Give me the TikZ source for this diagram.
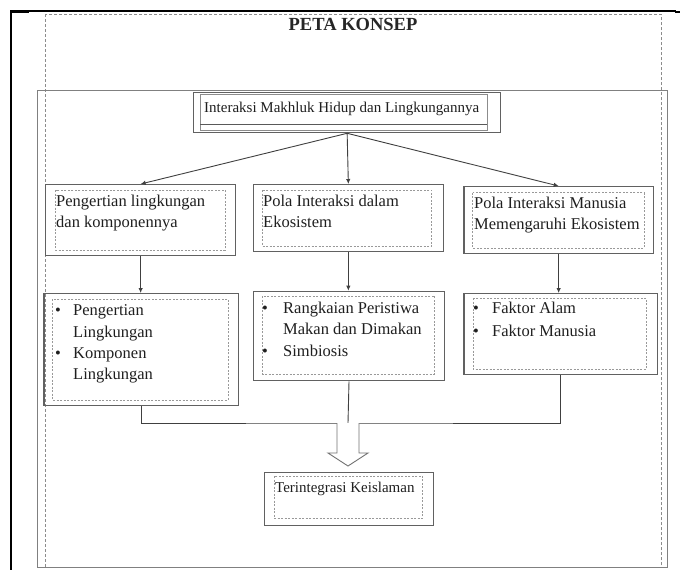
\documentclass[tikz,border=0pt]{standalone}
\usepackage{fontspec}
\setmainfont{Liberation Serif}
\usetikzlibrary{arrows.meta,calc}
\begin{document}
\begin{tikzpicture}[x=1pt,y=-1pt,
  bigsolid/.style={draw=black!50, line width=1.4pt},
  bigdash/.style={draw=black!45, line width=0.8pt, dash pattern=on 3pt off 2pt},
  outerbox/.style={draw=black!62, line width=1.3pt, inner sep=0pt, anchor=north west},
  dashbox/.style={draw=black!40, line width=0.6pt, dash pattern=on 2pt off 1.5pt},
  txt/.style={anchor=base west, inner sep=0pt, font=\fontsize{16.5}{21}\selectfont, text=black!88},
  bul/.style={anchor=base, inner sep=0pt, font=\fontsize{16.5}{21}\selectfont, text=black!88},
  conn/.style={draw=black!75, line width=0.9pt},
  arr/.style={conn, -{Latex[length=5pt,width=4.5pt]}},
]
\useasboundingbox (0,0) rectangle (680,570);
\fill[white] (0,0) rectangle (680,570);

% page frame
\draw[black, line width=1.6pt] (11,570) -- (11,11) -- (676,11);
\draw[black, line width=2.6pt] (11,12) -- (29,12);
\draw[black, line width=1.6pt] (675,12) -- (680,12);

% large frames
\draw[bigdash] (45.7,14) rectangle (661,567);
\draw[bigsolid] (37.7,90.7) rectangle (667.7,567.7);

% title
\node[anchor=base, inner sep=0pt, font=\bfseries\fontsize{18.5}{20}\selectfont, text=black!85] (title) at (353,30) {PETA KONSEP};

% top box
\node[outerbox, minimum width=307pt, minimum height=40pt] (top) at (193,92) {};
\draw[draw=black!45, line width=0.7pt] (200,94) rectangle (487,130);
\draw[draw=black!65, line width=0.8pt] (200,124) -- (487,124);
\node[txt, font=\fontsize{15}{18}\selectfont] (toptxt) at (204,112) {Interaksi Makhluk Hidup dan Lingkungannya};

% level 1
\node[outerbox, minimum width=190pt, minimum height=71pt] (l1) at (45,184) {};
\draw[dashbox] (55.7,190) rectangle (225,250);
\node[txt] (l1a) at (56,206) {Pengertian lingkungan};
\node[txt] (l1b) at (56,227) {dan komponennya};

\node[outerbox, minimum width=190pt, minimum height=67pt] (m1) at (252.7,184) {};
\draw[dashbox] (262.7,190) rectangle (431.7,246);
\node[txt] (m1a) at (263,206) {Pola Interaksi dalam};
\node[txt] (m1b) at (263,227) {Ekosistem};

\node[outerbox, minimum width=189.4pt, minimum height=67pt] (r1) at (463.3,186) {};
\draw[dashbox] (472.7,192.7) rectangle (644,248);
\node[txt] (r1a) at (474,208) {Pola Interaksi Manusia};
\node[txt] (r1b) at (474,229) {Memengaruhi Ekosistem};

% level 2
\node[outerbox, minimum width=194.7pt, minimum height=112pt] (l2) at (43.3,293) {};
\draw[dashbox] (52.7,299) rectangle (228,400);
\node[bul] (l2p1) at (58,315) {\textbullet};
\node[txt] (l2a) at (73,315) {Pengertian};
\node[txt] (l2b) at (73,337) {Lingkungan};
\node[bul] (l2p2) at (58,358) {\textbullet};
\node[txt] (l2c) at (73,358) {Komponen};
\node[txt] (l2d) at (73,379) {Lingkungan};

\node[outerbox, minimum width=191.3pt, minimum height=89.3pt] (m2) at (252.7,290.7) {};
\draw[dashbox] (262.7,296) rectangle (434.6,374);
\node[bul] (m2p1) at (265,313) {\textbullet};
\node[txt] (m2a) at (283,313) {Rangkaian Peristiwa};
\node[txt] (m2b) at (283,334) {Makan dan Dimakan};
\node[bul] (m2p2) at (265,356) {\textbullet};
\node[txt] (m2c) at (283,356) {Simbiosis};

\node[outerbox, minimum width=193.4pt, minimum height=81pt] (r2) at (463.3,293) {};
\draw[dashbox] (473,298) rectangle (646,369);
\node[bul] (r2p1) at (476,313) {\textbullet};
\node[txt] (r2a) at (492,313) {Faktor Alam};
\node[bul] (r2p2) at (476,336) {\textbullet};
\node[txt] (r2b) at (492,336) {Faktor Manusia};

% final box
\node[outerbox, minimum width=169pt, minimum height=53.3pt] (fin) at (264,471.7) {};
\draw[dashbox] (274,476) rectangle (422.7,518);
\node[txt, font=\fontsize{15}{18}\selectfont] (fintxt) at (275,492) {Terintegrasi Keislaman};

% arrows
\draw[arr] (top.south) -- (l1.north);
\draw[arr] (top.south) -- (m1.north);
\draw[arr] (top.south) -- (r1.north);
\draw[arr] (l1.south) -- (l1.south |- l2.north);
\draw[arr] (m1.south) -- (m1.south |- m2.north);
\draw[arr] (r1.south) -- (r1.south |- r2.north);

% bracket
\coordinate (j) at (348,423);
\draw[conn] (l2.south) |- (j) -| (r2.south);
\draw[conn] (m2.south) -- (j);

% block arrow
\draw[draw=black!55, line width=0.9pt, fill=white, line join=miter]
  ($(j)+(-11,0)$) -- ($(j)+(-11,30)$) -- ($(j)+(-20,30)$) -- ($(j)+(0,43)$)
  -- ($(j)+(20,30)$) -- ($(j)+(11,30)$) -- ($(j)+(11,0)$);
\end{tikzpicture}
\end{document}
